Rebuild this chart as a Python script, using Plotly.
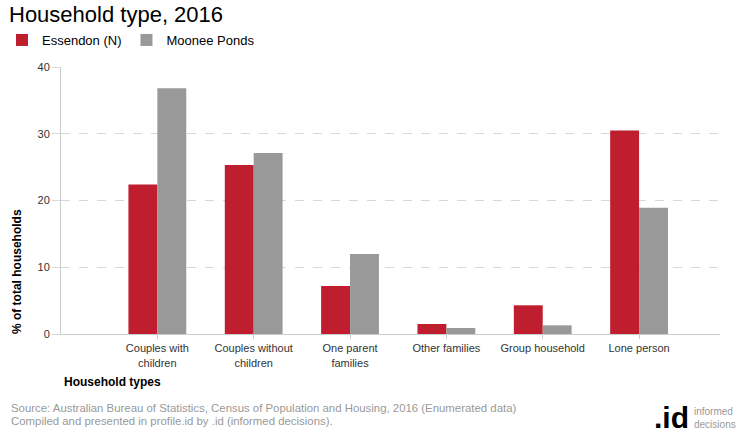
import plotly.graph_objects as go

categories = ["Couples with<br>children", "Couples without<br>children", "One parent<br>families",
              "Other families", "Group household", "Lone person"]
essendon = [22.4, 25.3, 7.2, 1.5, 4.3, 30.5]
moonee = [36.8, 27.1, 12.0, 0.9, 1.3, 18.9]
series_names = ["Essendon (N)", "Moonee Ponds"]

W, H = 740, 440
L, R, T, B = 61, 720, 66.8, 334
def px(x):
    return (x - L) / (R - L)
def py(y):
    return (B - y) / (B - T)

FONT = "Liberation Sans, Arial, sans-serif"
fig = go.Figure()
fig.add_bar(x=list(range(len(categories))), y=essendon, name=series_names[0],
            marker=dict(color="#be1e2d", line=dict(width=0)))
fig.add_bar(x=list(range(len(categories))), y=moonee, name=series_names[1],
            marker=dict(color="#999999", line=dict(width=0)))

fig.update_layout(
    width=W, height=H,
    margin=dict(l=L, r=W - R, t=T, b=H - B, autoexpand=False),
    plot_bgcolor="white", paper_bgcolor="white",
    barmode="group", bargap=0.4, bargroupgap=0,
    font=dict(family=FONT, size=11, color="#333333"),
    title=dict(text="Household type, 2016", x=9 / W, xref="container", xanchor="left",
               y=1 - 14 / H, yref="container", yanchor="middle",
               font=dict(size=22, color="#000000", family=FONT)),
    legend=dict(orientation="h", x=2 / W, xref="container", xanchor="left",
                y=1 - 25 / H, yref="container", yanchor="top",
                font=dict(size=13, color="#000000"), itemwidth=30, tracegroupgap=0,
                traceorder="normal"),
    showlegend=True,
)
fig.update_xaxes(
    range=[-1, 5.84], tickmode="array", tickvals=list(range(len(categories))), ticktext=categories,
    showline=True, linecolor="#cccccc", linewidth=1, showgrid=False, zeroline=False,
    ticks="outside", ticklen=4, tickcolor="#cccccc", tickfont=dict(size=11, color="#333333"),
)
fig.update_yaxes(
    range=[0, 40], tickvals=[0, 10, 20, 30, 40],
    showline=True, linecolor="#cccccc", linewidth=1,
    showgrid=True, gridcolor="#d8d8d8", griddash="dash", zeroline=False,
    ticks="outside", ticklen=8, tickcolor="#d8d8d8", tickfont=dict(size=11, color="#333333"),
)

ann = [
    dict(text="<b>Household types</b>", x=px(62), y=py(382), xanchor="left", yanchor="middle",
         font=dict(size=12, color="#000000")),
    dict(text="<b>% of total households</b>", x=px(17), y=py(272), textangle=-90,
         xanchor="center", yanchor="middle", font=dict(size=12, color="#000000")),
    dict(text="Source: Australian Bureau of Statistics, Census of Population and Housing, 2016 (Enumerated data)",
         x=px(9), y=py(408), xanchor="left", yanchor="middle", font=dict(size=11.4, color="#999999")),
    dict(text="Compiled and presented in profile.id by .id (informed decisions).",
         x=px(9), y=py(421), xanchor="left", yanchor="middle", font=dict(size=11.4, color="#999999")),
    dict(text="<b>.id</b>", x=px(691), y=py(418), xanchor="right", yanchor="middle",
         font=dict(size=30, color="#000000", family="Liberation Sans, Arial")),
    dict(text="informed<br>decisions", x=px(692), y=py(418), xanchor="left", yanchor="middle",
         align="left", font=dict(size=10, color="#999999", family="Liberation Sans Narrow, Liberation Sans, Arial")),
]
for a in ann:
    a.update(xref="paper", yref="paper", showarrow=False)
fig.update_layout(annotations=ann)

fig.write_html("out.html", config={"displayModeBar": False},
               post_script="document.body.style.margin='0';")
